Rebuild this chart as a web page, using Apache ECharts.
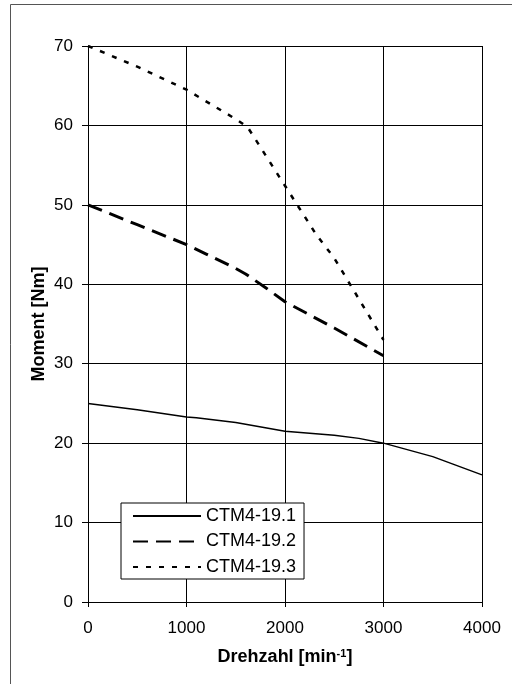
<!DOCTYPE html>
<html>
<head>
<meta charset="utf-8">
<script src="https://cdn.jsdelivr.net/npm/echarts@6/dist/echarts.min.js"></script>
<style>
  html, body { margin: 0; padding: 0; background: #fff; }
  #chart { width: 512px; height: 684px; }
</style>
</head>
<body>
<div id="chart"></div>
<script>
// ===== Moment / Drehzahl curves =====
const FONT = '"Liberation Sans", Arial, sans-serif';

const seriesNames = ['CTM4-19.1', 'CTM4-19.2', 'CTM4-19.3'];

const speed1  = [0, 500, 1000, 1100, 1500, 2000, 2500, 2750, 3000, 3500, 4000];
const torque1 = [25, 24.2, 23.3, 23.2, 22.6, 21.5, 21.0, 20.6, 20, 18.3, 16.0];

const speed2  = [0, 500, 1000, 1200, 1500, 1600, 1800, 2000, 2500, 3000];
const torque2 = [50, 47.5, 45, 43.8, 42, 41.3, 39.6, 37.8, 34.5, 31];

const speed3  = [0, 500, 1000, 1500, 1620, 2000, 2320, 2500, 3000];
const torque3 = [70, 67.4, 64.5, 60.8, 59.8, 52.4, 46.2, 43.3, 33];

const xTicks = { min: 0, max: 4000, interval: 1000 };
const yTicks = { min: 0, max: 70, interval: 10 };

function pairs(xs, ys) { return xs.map((x, i) => [x, ys[i]]); }

const chart = echarts.init(document.getElementById('chart'), null, { renderer: 'canvas' });

const axisCommon = {
  axisLine: { show: true, lineStyle: { color: '#000', width: 1 } },
  splitLine: { show: true, lineStyle: { color: '#000', width: 1 } }
};

chart.setOption({
  animation: false,
  backgroundColor: '#fff',
  textStyle: { fontFamily: FONT },
  graphic: [{
    type: 'rect',
    shape: { x: 10.5, y: 4.5, width: 600, height: 700 },
    style: { fill: 'none', stroke: '#555', lineWidth: 1 },
    z: -1, silent: true
  }],
  grid: { left: 88, top: 46, width: 394, bottom: 82, show: false },
  legend: {
    data: seriesNames,
    orient: 'vertical',
    left: 121, top: 503,
    backgroundColor: '#fff',
    borderColor: '#000', borderWidth: 1,
    padding: [4, 8, 3, 11],
    itemWidth: 68, itemHeight: 10, itemGap: 7.5,
    itemStyle: { opacity: 0 },
    textStyle: { color: '#000', fontFamily: FONT, fontSize: 18, lineHeight: 18 },
    z: 10
  },
  xAxis: Object.assign({
    type: 'value',
    min: xTicks.min, max: xTicks.max, interval: xTicks.interval,
    name: 'Drehzahl [min{sup|-1}]',
    nameLocation: 'middle', nameGap: 46, nameMoveOverlap: false,
    nameTextStyle: {
      color: '#000', fontFamily: FONT, fontSize: 18, fontWeight: 'bold',
      rich: { sup: { fontSize: 11, fontWeight: 'bold', fontFamily: FONT, color: '#000', verticalAlign: 'top' } }
    }
  }, axisCommon, {
    axisTick: { show: true, length: 5, lineStyle: { color: '#000' } },
    axisLabel: { color: '#000', fontFamily: FONT, fontSize: 17, margin: 18, formatter: v => String(v) }
  }),
  yAxis: Object.assign({
    type: 'value',
    min: yTicks.min, max: yTicks.max, interval: yTicks.interval,
    name: 'Moment [Nm]',
    nameLocation: 'middle', nameGap: 40, nameMoveOverlap: false,
    nameTextStyle: { color: '#000', fontFamily: FONT, fontSize: 18, fontWeight: 'bold' }
  }, axisCommon, {
    axisTick: { show: true, length: 6, lineStyle: { color: '#000' } },
    axisLabel: { color: '#000', fontFamily: FONT, fontSize: 17, margin: 15 }
  }),
  series: [
    {
      name: seriesNames[0], type: 'line', symbol: 'none',
      lineStyle: { color: '#000', width: 1.5, type: 'solid' },
      itemStyle: { color: '#000' },
      data: pairs(speed1, torque1)
    },
    {
      name: seriesNames[1], type: 'line', symbol: 'none',
      lineStyle: { color: '#000', width: 3, type: [15, 8] },
      itemStyle: { color: '#000' },
      data: pairs(speed2, torque2)
    },
    {
      name: seriesNames[2], type: 'line', symbol: 'none',
      lineStyle: { color: '#000', width: 2.5, type: [5, 8] },
      itemStyle: { color: '#000' },
      data: pairs(speed3, torque3)
    }
  ]
});
</script>
</body>
</html>
